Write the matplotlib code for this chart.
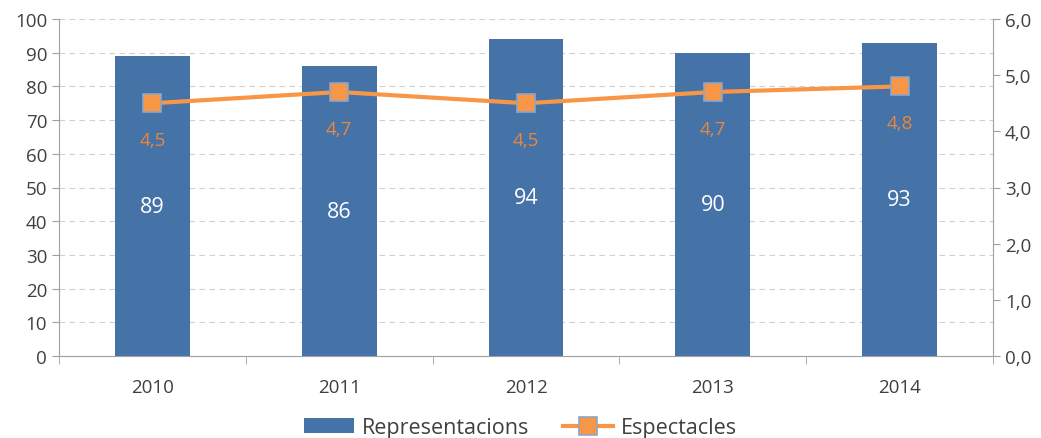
import matplotlib
matplotlib.use("Agg")
import matplotlib.pyplot as plt
import numpy as np

years = ["2010", "2011", "2012", "2013", "2014"]
representacions = [89, 86, 94, 90, 93]
espectacles = [4.5, 4.7, 4.5, 4.7, 4.8]

plt.rcParams['font.family'] = ['Open Sans', 'DejaVu Sans']
txt = '#404040'
bar_c = '#4572A7'
line_c = '#F79646'

fig = plt.figure(figsize=(10.41, 4.39), dpi=100)
ax = fig.add_axes([59/1041, 1-357/439, (993-59)/1041, (357-20)/439])
x = np.arange(len(years))
bars = ax.bar(x, representacions, width=0.4, color=bar_c, zorder=2, label='Representacions')
ax.set_xlim(-0.5, len(years)-0.5)
ax.set_ylim(0, 100)
ax.set_yticks(range(0, 101, 10))
ax.yaxis.grid(True, linestyle=(0, (5, 4)), color='#D0D0D0', linewidth=0.8, zorder=0)
ax.set_axisbelow(True)
ax.set_xticks(x)
ax.set_xticklabels(years)
ax.set_xticks(np.arange(-0.5, len(years), 1), minor=True)
ax.tick_params(axis='x', which='major', length=0, pad=16, labelsize=13.5, colors=txt)
ax.tick_params(axis='x', which='minor', length=6, color='#A0A0A0')
ax.tick_params(axis='y', length=5, color='#A0A0A0', labelsize=13.5, labelcolor=txt)
for s in ['top', 'right']:
    ax.spines[s].set_visible(False)
for s in ['left', 'bottom']:
    ax.spines[s].set_color('#A0A0A0')
for xi, v in zip(x, representacions):
    ax.text(xi, v/2, str(v), ha='center', va='center', color='white', fontsize=15.5)

ax2 = ax.twinx()
ax2.set_ylim(0, 6)
ax2.set_yticks(np.arange(0, 6.01, 1))
ax2.set_yticklabels([f"{t:.1f}".replace('.', ',') for t in np.arange(0, 6.01, 1)])
ax2.tick_params(axis='y', length=5, color='#A0A0A0', labelsize=13.5, labelcolor=txt)
for s in ['top', 'left', 'bottom']:
    ax2.spines[s].set_visible(False)
ax2.spines['right'].set_color('#A0A0A0')
ln, = ax2.plot(x, espectacles, color=line_c, linewidth=3, marker='s', markersize=13,
               markerfacecolor=line_c, markeredgecolor='#8EA5C8', markeredgewidth=1.2,
               zorder=3, label='Espectacles')
for xi, v in zip(x, espectacles):
    ax2.text(xi, v - 0.65, f"{v:.1f}".replace('.', ','), ha='center', va='center',
             color='#E9883A', fontsize=13.5)

fig.legend([bars, ln], ['Representacions', 'Espectacles'], loc='lower center',
           bbox_to_anchor=(0.5, -0.045), ncol=2, frameon=False, fontsize=15.5,
           labelcolor=txt, handlelength=2.3, columnspacing=1.6, handletextpad=0.35)
fig.savefig('out.png', dpi=100)
